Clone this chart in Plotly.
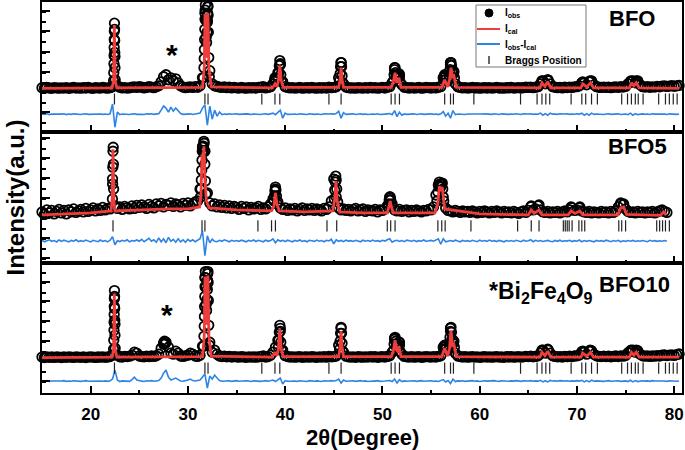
import plotly.graph_objects as go
from plotly.subplots import make_subplots

# ---------------- DATA (2theta in degrees, intensity in counts) ----------------
# Observed scan, regular grid: starts at 15 deg, step 0.25 deg
SCAN_START = 15.0
SCAN_STEP = 0.25

obs_bfo_grid = [
    520, 470, 540, 490, 460, 530, 500, 470,
    510, 480, 530, 460, 500, 540, 480, 510,
    470, 520, 490, 550, 480, 460, 530, 500,
    480, 540, 500, 470, 520, 600, 3600, 700,
    560, 500, 530, 480, 510, 560, 600, 540,
    620, 560, 500, 540, 620, 580, 520, 600,
    700, 1100, 1600, 1800, 1300, 1500, 1200, 1400,
    1000, 700, 580, 520, 560, 600, 540, 620,
    560, 700, 1500, 7900, 7200, 2200, 900, 700,
    640, 580, 540, 600, 520, 560, 500, 540,
    510, 480, 540, 500, 470, 530, 500, 520,
    480, 540, 560, 620, 500, 540, 620, 900,
    1400, 2000, 2900, 1100, 620, 540, 500, 520,
    480, 510, 540, 470, 500, 520, 490, 540,
    500, 470, 520, 490, 530, 480, 560, 520,
    540, 600, 1500, 3000, 900, 580, 520, 490,
    510, 470, 530, 500, 480, 520, 490, 540,
    500, 530, 470, 510, 540, 490, 560, 620,
    1000, 2500, 1700, 1800, 800, 560, 520, 490,
    530, 480, 510, 540, 470, 500, 540, 520,
    490, 530, 500, 560, 620, 1500, 1700, 1200,
    3000, 2200, 900, 600, 540, 500, 530, 480,
    510, 540, 490, 520, 470, 500, 530, 490,
    520, 480, 510, 540, 490, 500, 470, 530,
    500, 540, 480, 510, 530, 490, 520, 560,
    540, 580, 520, 560, 620, 900, 1200, 900,
    1300, 900, 620, 560, 520, 540, 500, 560,
    530, 580, 540, 600, 620, 700, 1000, 1000,
    800, 1100, 1200, 800, 620, 560, 540, 580,
    540, 580, 520, 560, 600, 540, 620, 580,
    640, 900, 1100, 1200, 1000, 1200, 800, 620,
    580, 620, 560, 600, 580, 640, 600, 680,
    700, 640, 680, 720, 660, 700, 740,
]
obs_bfo_pk_x = [22.36, 22.38, 22.40, 22.41, 22.42, 22.43, 22.44, 22.45, 22.46, 22.47, 22.48, 22.50, 22.52,
                31.60, 31.65, 31.68, 31.70, 31.72, 31.74, 31.76, 31.78, 31.80, 31.84, 31.88, 31.92, 31.96,
                32.00, 32.02, 32.04, 32.06, 32.08, 32.10, 32.14, 32.20,
                38.90, 38.95, 39.00, 39.30, 39.35, 39.40, 39.45, 39.50, 39.55, 39.60,
                45.60, 45.65, 45.70, 45.75, 45.80, 45.85, 45.90,
                51.15, 51.20, 51.25, 51.30, 51.35, 51.45, 51.60, 51.65, 51.70, 51.75, 51.80,
                56.30, 56.35, 56.40, 56.45, 56.50, 56.90, 56.95, 57.00, 57.05, 57.10, 57.15, 57.30, 57.35, 57.40,
                66.40, 66.45, 67.00, 67.05, 70.60, 70.65, 71.35, 71.40, 75.55, 75.60, 76.10, 76.15]
obs_bfo_pk_y = [1200, 2000, 2900, 3700, 4500, 5300, 6100, 6900, 6300, 5200, 4000, 2500, 1300,
                1500, 2500, 3400, 4300, 5300, 6300, 7300, 8200, 8700, 7200, 5500, 5000, 6000,
                7000, 7900, 8500, 8600, 7700, 6000, 3500, 1600,
                1200, 1500, 1200, 1400, 2000, 2700, 3200, 2800, 1800, 1100,
                1200, 1900, 2600, 3000, 2600, 1700, 1000,
                1200, 1800, 2300, 2500, 2000, 1500, 1500, 1800, 1900, 1600, 1100,
                1300, 1600, 1800, 1700, 1300, 1600, 2300, 2800, 3000, 2700, 2200, 1900, 2100, 1500,
                1200, 1100, 1300, 1200, 1100, 1000, 1200, 1100, 1200, 1100, 1200, 1100]
cal_bfo_x = [15, 22.2, 22.36, 22.44, 22.52, 22.7, 31.5, 31.68, 31.76, 31.86, 31.95, 32.06, 32.16, 32.4,
             38.7, 38.95, 39.15, 39.3, 39.45, 39.6, 39.8, 45.5, 45.65, 45.75, 45.85, 46.0,
             50.9, 51.1, 51.3, 51.45, 51.55, 51.7, 51.9, 56.1, 56.4, 56.7, 56.9, 57.05, 57.2, 57.35, 57.6,
             66.2, 66.4, 66.7, 67.0, 67.3, 70.4, 70.6, 71.0, 71.4, 71.7, 75.4, 75.6, 75.85, 76.1, 76.4, 80.5]
cal_bfo_y = [450, 500, 1200, 6700, 1200, 500, 550, 2500, 7800, 3500, 3800, 7900, 2500, 600,
             500, 900, 600, 1200, 2700, 1200, 550, 550, 1300, 2500, 1300, 550,
             550, 1000, 2000, 1100, 1100, 1500, 550, 550, 1300, 600, 1300, 2500, 1600, 1700, 550,
             500, 1000, 650, 1100, 500, 500, 900, 600, 1000, 500, 500, 1000, 700, 1000, 500, 450]
diff_bfo_grid = [
    -2080, -2120, -2060, -2140, -2090, -2110, -2070, -2130,
    -2100, -2060, -2140, -2090, -2120, -2070, -2110, -2080,
    -2130, -2090, -2060, -2120, -2100, -2140, -2070, -2110,
    -2090, -2120, -2080, -2130, -2060, -1100, -3400, -1900,
    -2150, -2080, -2110, -2070, -2130, -2090, -2060, -2120,
    -2080, -2110, -2140, -2070, -2100, -2060, -2120, -2090,
    -2050, -1700, -1300, -1500, -1900, -1400, -1800, -1500,
    -1800, -2050, -2120, -2080, -2110, -2070, -2130, -2090,
    -2080, -2000, -1500, -1200, -3200, -1300, -2600, -1700,
    -2300, -1900, -2150, -2080, -2120, -2070, -2110, -2090,
    -2060, -2120, -2090, -2130, -2070, -2100, -2140, -2080,
    -2110, -2070, -2130, -2090, -2060, -2120, -2050, -2000,
    -2150, -1900, -1700, -2500, -2000, -2120, -2080, -2110,
    -2090, -2130, -2070, -2110, -2080, -2140, -2060, -2100,
    -2120, -2080, -2100, -2140, -2070, -2110, -2090, -2060,
    -2100, -2050, -1800, -2500, -1950, -2120, -2080, -2110,
    -2070, -2130, -2090, -2060, -2120, -2080, -2140, -2100,
    -2090, -2110, -2060, -2130, -2080, -2100, -2070, -2040,
    -2150, -1750, -2350, -1900, -2200, -2080, -2120, -2090,
    -2110, -2070, -2130, -2090, -2060, -2120, -2080, -2100,
    -2070, -2120, -2090, -2140, -2060, -1850, -2300, -2000,
    -2500, -1750, -2150, -2080, -2110, -2070, -2130, -2090,
    -2100, -2060, -2120, -2080, -2140, -2090, -2070, -2110,
    -2080, -2120, -2060, -2100, -2130, -2070, -2110, -2090,
    -2120, -2080, -2110, -2060, -2090, -2130, -2070, -2100,
    -2090, -2060, -2120, -2080, -2110, -2000, -2200, -2050,
    -2200, -2000, -2100, -2080, -2120, -2060, -2110, -2090,
    -2070, -2120, -2080, -2110, -2060, -2100, -2000, -2200,
    -2050, -2200, -2000, -2120, -2080, -2110, -2070, -2130,
    -2090, -2060, -2120, -2080, -2110, -2070, -2130, -2100,
    -2080, -2150, -2000, -2200, -2050, -2150, -2100, -2070,
    -2110, -2080, -2130, -2060, -2100, -2120, -2070, -2090,
    -2100, -2130, -2070, -2110, -2080, -2120, -2090,
]
bragg_bfo = [22.45, 31.75, 32.07, 37.6, 38.95, 39.45, 44.5, 45.75, 50.9, 51.3, 51.75, 56.4, 57.0, 57.3,
             59.4, 64.2, 65.9, 66.4, 66.8, 67.2, 69.4, 70.5, 70.9, 71.5, 72.1, 74.6, 75.2, 75.6, 76.0,
             76.3, 76.8, 78.4, 79.1, 79.5, 79.9, 80.3]

obs_bfo5_grid = [
    700, 450, 900, 600, 850, 500, 750, 950,
    600, 850, 500, 900, 700, 1000, 650, 800,
    950, 700, 1050, 750, 900, 1100, 800, 1000,
    850, 1150, 900, 1050, 1000, 4000, 1300, 1050,
    1200, 950, 1250, 1100, 1000, 1300, 1050, 1350,
    1150, 1400, 1200, 1050, 1450, 1250, 1100, 1500,
    1300, 1550, 1200, 1450, 1350, 1600, 1250, 1500,
    1400, 1200, 1550, 1350, 1600, 1300, 1500, 1700,
    1800, 3000, 7200, 6800, 2600, 1600, 1300, 1500,
    1200, 1400, 1150, 1350, 1100, 1300, 1050, 1250,
    1150, 950, 1250, 1050, 1200, 900, 1150, 1000,
    1100, 1250, 950, 1100, 1000, 1200, 1500, 2000,
    3000, 1700, 1100, 950, 1100, 850, 1000, 900,
    1050, 800, 950, 1100, 850, 1000, 900, 1050,
    850, 1000, 900, 800, 1050, 950, 1200, 1800,
    4000, 2200, 1100, 900, 1000, 850, 950, 800,
    950, 1050, 800, 900, 1000, 750, 900, 850,
    800, 950, 700, 900, 850, 1000, 1300, 2100,
    1500, 900, 800, 950, 750, 850, 900, 700,
    850, 750, 900, 800, 700, 850, 800, 950,
    900, 1200, 2400, 3400, 3500, 2200, 1100, 850,
    800, 700, 850, 750, 650, 800, 700, 750,
    650, 800, 700, 600, 750, 650, 800, 700,
    600, 750, 650, 800, 700, 600, 750, 650,
    700, 600, 750, 650, 550, 700, 800, 650,
    850, 1200, 900, 1000, 1300, 900, 700, 650,
    750, 600, 700, 650, 750, 600, 700, 800,
    700, 900, 1100, 850, 900, 1100, 800, 700,
    650, 750, 600, 700, 650, 600, 750, 650,
    700, 600, 750, 650, 800, 1200, 1500, 1400,
    1000, 750, 650, 700, 600, 750, 650, 700,
    600, 700, 650, 750, 600, 700, 800, 900,
    750, 650,
]
obs_bfo5_pk_x = [22.24, 22.26, 22.28, 22.30, 22.32, 22.34, 22.36,
                 31.30, 31.34, 31.38, 31.42, 31.45, 31.48, 31.52, 31.56, 31.60, 31.64, 31.67, 31.70, 31.74, 31.80, 31.86,
                 38.85, 38.90, 38.95, 39.00, 39.05, 39.10, 39.20,
                 45.05, 45.10, 45.15, 45.20, 45.25, 45.30, 45.40,
                 50.65, 50.70, 50.75, 50.80, 50.85, 50.95,
                 55.60, 55.70, 55.80, 55.85, 55.90, 56.00, 56.10, 56.15, 56.20, 56.30,
                 65.30, 66.10, 69.40, 70.30, 74.50, 74.80]
obs_bfo5_pk_y = [2000, 3500, 5200, 6800, 7200, 5500, 3000,
                 2200, 3000, 3900, 4900, 5900, 6800, 7300, 6800, 7300, 7800, 7600, 6800, 5500, 3800, 2500,
                 1800, 2300, 2800, 3200, 2900, 2300, 1500,
                 2000, 2900, 3700, 4300, 3900, 3000, 1700,
                 1500, 1900, 2200, 2200, 1900, 1300,
                 1800, 2700, 3300, 3700, 3500, 3200, 3500, 3600, 3000, 1800,
                 1300, 1400, 1200, 1200, 1600, 1500]
cal_bfo5_x = [15, 20, 22.1, 22.22, 22.3, 22.38, 22.5, 25, 28, 30,
              31.2, 31.35, 31.45, 31.55, 31.65, 31.75, 31.9, 32.2, 35,
              38.6, 38.85, 39.0, 39.15, 39.4, 42, 44.9, 45.1, 45.22, 45.35, 45.6, 48,
              50.5, 50.7, 50.8, 50.9, 51.1, 55.4, 55.7, 55.85, 56.0, 56.15, 56.4, 60,
              65.0, 65.3, 65.6, 66.1, 66.4, 69.1, 69.4, 69.8, 70.3, 70.6,
              74.2, 74.5, 74.8, 75.1, 78.6, 78.9, 79.2]
cal_bfo5_y = [400, 600, 800, 2000, 7000, 2000, 800, 900, 1000, 1000,
              1200, 2500, 6500, 5500, 7300, 4000, 1800, 1100, 900,
              800, 1300, 2600, 1500, 800, 700, 800, 2000, 3800, 1800, 700, 600,
              600, 1400, 1800, 1300, 600, 600, 1500, 3300, 2800, 3200, 1000, 500,
              400, 900, 550, 900, 400, 400, 800, 550, 800, 400,
              400, 1100, 1200, 450, 350, 700, 400]
diff_bfo5_grid = [
    -2150, -2300, -2200, -2100, -2250, -2180, -2320, -2120,
    -2260, -2140, -2230, -2310, -2160, -2240, -2100, -2280,
    -2190, -2270, -2130, -2250, -2320, -2150, -2210, -2290,
    -2120, -2260, -2180, -2310, -2140, -1800, -2600, -2200,
    -2280, -2150, -2240, -2100, -2300, -2170, -2230, -2120,
    -2250, -2050, -2300, -2150, -1950, -2250, -2100, -2350,
    -1900, -2300, -2000, -2400, -1850, -2250, -2050, -2350,
    -2000, -2300, -2100, -2350, -2050, -2250, -2100, -2300,
    -2150, -2000, -1200, -3700, -1700, -2400, -2050, -2250,
    -2300, -2150, -2250, -2100, -2200, -2300, -2150, -2250,
    -2180, -2260, -2140, -2230, -2300, -2160, -2240, -2120,
    -2270, -2150, -2220, -2300, -2130, -2250, -2180, -2000,
    -2400, -2100, -2250, -2150, -2280, -2140, -2230, -2300,
    -2160, -2240, -2120, -2270, -2190, -2300, -2150, -2220,
    -2260, -2130, -2240, -2180, -2300, -2150, -2220, -2050,
    -2500, -2100, -2250, -2170, -2290, -2140, -2230, -2190,
    -2270, -2150, -2220, -2300, -2140, -2250, -2180, -2260,
    -2130, -2240, -2190, -2280, -2150, -2230, -2100, -2000,
    -2350, -2200, -2150, -2260, -2180, -2290, -2140, -2230,
    -2250, -2150, -2280, -2190, -2240, -2120, -2270, -2200,
    -2160, -2240, -2100, -2000, -2550, -2000, -2300, -2200,
    -2180, -2260, -2140, -2230, -2300, -2160, -2250, -2190,
    -2270, -2150, -2220, -2290, -2140, -2240, -2180, -2260,
    -2130, -2250, -2190, -2280, -2160, -2230, -2300, -2170,
    -2240, -2180, -2270, -2150, -2220, -2290, -2140, -2250,
    -2190, -2100, -2300, -2150, -2250, -2180, -2270, -2200,
    -2160, -2240, -2300, -2170, -2250, -2140, -2260, -2200,
    -2230, -2150, -2280, -2190, -2250, -2120, -2300, -2180,
    -2260, -2170, -2240, -2300, -2160, -2250, -2190, -2270,
    -2140, -2230, -2290, -2180, -2250, -2150, -2300, -2200,
    -2260, -2180, -2240, -2160, -2270, -2200, -2250, -2170,
    -2230, -2290, -2150, -2240, -2190, -2260, -2200, -2250,
    -2180, -2240,
]
bragg_bfo5 = [22.3, 31.45, 31.75, 37.2, 38.6, 39.0, 44.3, 45.3, 50.5, 50.85, 51.3, 55.7, 56.1, 56.45,
              59.1, 63.9, 65.3, 66.1, 68.6, 68.8, 69.0, 69.2, 69.5, 70.2, 70.5, 70.8, 74.3, 74.6, 75.0,
              78.2, 78.5, 78.8, 79.1, 79.5]

obs_bfo10_grid = [
    510, 470, 530, 490, 520, 480, 540, 500,
    470, 520, 490, 540, 500, 480, 530, 510,
    490, 530, 470, 510, 540, 500, 480, 520,
    500, 540, 490, 520, 560, 700, 3800, 700,
    540, 520, 580, 560, 600, 700, 1000, 900,
    620, 560, 540, 600, 560, 620, 580, 640,
    800, 1400, 1900, 2000, 1500, 900, 800, 1100,
    900, 620, 580, 640, 700, 900, 800, 620,
    580, 700, 1600, 8500, 8200, 2000, 1000, 1200,
    800, 620, 560, 600, 540, 580, 520, 560,
    540, 500, 560, 520, 490, 540, 510, 530,
    500, 540, 560, 640, 520, 560, 700, 1000,
    1500, 2200, 3400, 1200, 650, 560, 520, 540,
    500, 530, 560, 490, 520, 540, 500, 550,
    520, 490, 540, 510, 550, 500, 580, 540,
    560, 620, 1700, 3400, 1000, 600, 540, 510,
    530, 490, 550, 520, 500, 540, 510, 560,
    520, 550, 490, 530, 560, 510, 580, 640,
    1000, 2400, 1800, 2000, 800, 580, 540, 510,
    550, 500, 530, 560, 490, 520, 560, 540,
    510, 550, 520, 580, 640, 1500, 1700, 1200,
    3400, 2200, 900, 620, 560, 520, 550, 500,
    530, 560, 510, 540, 490, 520, 550, 510,
    540, 500, 530, 560, 510, 520, 490, 550,
    520, 560, 500, 530, 550, 510, 540, 580,
    560, 600, 540, 580, 640, 900, 1200, 900,
    1250, 900, 640, 580, 540, 560, 520, 580,
    550, 600, 560, 620, 640, 720, 1050, 1000,
    800, 1100, 1150, 800, 640, 580, 560, 600,
    560, 600, 540, 580, 620, 560, 640, 600,
    660, 950, 1100, 1200, 1000, 1150, 800, 640,
    600, 640, 580, 620, 600, 660, 620, 700,
    720, 660, 700, 740, 680, 760, 820,
]
obs_bfo10_pk_x = [22.36, 22.38, 22.40, 22.41, 22.42, 22.43, 22.44, 22.45, 22.46, 22.47, 22.48, 22.50, 22.52,
                  27.50, 27.55, 27.60, 27.65, 27.70,
                  31.60, 31.65, 31.68, 31.70, 31.72, 31.74, 31.76, 31.78, 31.80, 31.84, 31.88, 31.92, 31.96,
                  32.00, 32.02, 32.04, 32.06, 32.08, 32.10, 32.14, 32.20,
                  39.30, 39.35, 39.40, 39.45, 39.50, 39.55, 39.60,
                  45.60, 45.65, 45.70, 45.75, 45.80, 45.85, 45.90,
                  51.15, 51.20, 51.25, 51.30, 51.35, 51.45, 51.60, 51.65, 51.70, 51.75, 51.80,
                  56.30, 56.35, 56.40, 56.45, 56.50, 56.90, 56.95, 57.00, 57.05, 57.10, 57.15, 57.30, 57.35, 57.40,
                  66.40, 66.45, 67.00, 67.05, 70.60, 70.65, 71.35, 71.40, 75.55, 75.60, 76.10, 76.15]
obs_bfo10_pk_y = [1300, 2200, 3200, 4000, 4800, 5600, 6400, 7200, 6600, 5400, 4200, 2700, 1400,
                  1800, 2000, 2100, 2000, 1900,
                  1600, 2600, 3600, 4600, 5600, 6600, 7600, 8500, 9100, 7500, 5800, 5200, 6300,
                  7300, 8200, 8900, 9100, 8000, 6200, 3700, 1700,
                  1500, 2200, 3000, 3700, 3100, 2000, 1200,
                  1300, 2100, 2900, 3500, 2900, 1900, 1100,
                  1200, 1800, 2300, 2500, 2100, 1500, 1500, 1800, 2000, 1700, 1100,
                  1300, 1600, 1700, 1600, 1300, 1700, 2500, 3100, 3500, 3000, 2300, 1900, 2100, 1500,
                  1200, 1100, 1300, 1200, 1100, 1000, 1200, 1100, 1200, 1100, 1200, 1100]
cal_bfo10_x = cal_bfo_x
cal_bfo10_y = [450, 500, 1300, 6900, 1300, 500, 550, 2600, 8600, 3800, 4000, 8700, 2600, 600,
               500, 1000, 650, 1300, 3300, 1300, 550, 550, 1500, 3100, 1500, 550,
               550, 1000, 2200, 1200, 1100, 1600, 550, 550, 1400, 600, 1400, 3200, 1700, 1800, 550,
               500, 1000, 650, 1100, 500, 500, 900, 600, 1000, 500, 500, 1000, 700, 1000, 500, 500]
diff_bfo10_grid = [
    -1880, -1920, -1860, -1930, -1890, -1910, -1870, -1920,
    -1900, -1860, -1930, -1890, -1920, -1870, -1910, -1880,
    -1930, -1890, -1860, -1920, -1900, -1940, -1870, -1910,
    -1890, -1920, -1880, -1930, -1860, -1700, -800, -1800,
    -1950, -1880, -1910, -1870, -1930, -1750, -1500, -1800,
    -1880, -1910, -1940, -1870, -1900, -1860, -1920, -1890,
    -1850, -1600, -1100, -800, -1500, -1800, -1700, -1600,
    -1750, -1900, -1920, -1880, -1800, -1700, -1850, -1890,
    -1880, -1800, -1500, -1200, -2600, -1400, -1700, -1300,
    -1600, -1850, -1920, -1880, -1910, -1870, -1930, -1890,
    -1860, -1920, -1890, -1930, -1870, -1900, -1940, -1880,
    -1910, -1870, -1930, -1890, -1860, -1920, -1850, -1800,
    -1950, -1800, -1600, -2200, -1850, -1920, -1880, -1910,
    -1890, -1930, -1870, -1910, -1880, -1940, -1860, -1900,
    -1920, -1880, -1900, -1940, -1870, -1910, -1890, -1860,
    -1900, -1850, -1700, -2100, -1800, -1920, -1880, -1910,
    -1870, -1930, -1890, -1860, -1920, -1880, -1940, -1900,
    -1890, -1910, -1860, -1930, -1880, -1900, -1870, -1850,
    -1950, -1700, -2100, -1750, -1950, -1880, -1920, -1890,
    -1910, -1870, -1930, -1890, -1860, -1920, -1880, -1900,
    -1870, -1920, -1890, -1940, -1860, -1750, -2000, -1850,
    -2150, -1700, -1950, -1880, -1910, -1870, -1930, -1890,
    -1900, -1860, -1920, -1880, -1940, -1890, -1870, -1910,
    -1880, -1920, -1860, -1900, -1930, -1870, -1910, -1890,
    -1920, -1880, -1910, -1860, -1890, -1930, -1870, -1900,
    -1890, -1860, -1920, -1880, -1910, -1820, -1980, -1860,
    -1980, -1830, -1900, -1880, -1920, -1860, -1910, -1890,
    -1870, -1920, -1880, -1910, -1860, -1900, -1820, -1980,
    -1850, -1980, -1820, -1920, -1880, -1910, -1870, -1930,
    -1890, -1860, -1920, -1880, -1910, -1870, -1930, -1900,
    -1880, -1950, -1820, -1980, -1850, -1950, -1900, -1870,
    -1910, -1880, -1930, -1860, -1900, -1920, -1870, -1890,
    -1900, -1930, -1870, -1910, -1880, -1920, -1890,
]
bragg_bfo10 = bragg_bfo

# Offsets used for the tick rows of Bragg positions (counts)
bragg_level = [-600, -700, -600]
panel_ranges = [[-3900, 9000], [-4400, 8700], [-3100, 10000]]

legend_labels = ["I<sub>obs</sub>", "I<sub>cal</sub>", "I<sub>obs</sub>-I<sub>cal</sub>", "Braggs Position"]

# ---------------- FIGURE ----------------
FONT = "Liberation Sans, Arial, sans-serif"
RED = "#EE3D3A"
BLUE = "#2E83E6"
W, H = 685, 450
ML, MR, MT, MB = 42, 3, 2, 57
PW, PH = W - ML - MR, H - MT - MB


def px(xp):  # screen x pixel -> paper x (layout placement only)
    return (xp - ML) / PW


def py(yp):  # screen y pixel -> paper y (layout placement only)
    return (H - MB - yp) / PH


fig = make_subplots(rows=3, cols=1, shared_xaxes=True, vertical_spacing=0)

panels = [
    (obs_bfo_grid, obs_bfo_pk_x, obs_bfo_pk_y, cal_bfo_x, cal_bfo_y, diff_bfo_grid, bragg_bfo),
    (obs_bfo5_grid, obs_bfo5_pk_x, obs_bfo5_pk_y, cal_bfo5_x, cal_bfo5_y, diff_bfo5_grid, bragg_bfo5),
    (obs_bfo10_grid, obs_bfo10_pk_x, obs_bfo10_pk_y, cal_bfo10_x, cal_bfo10_y, diff_bfo10_grid, bragg_bfo10),
]

obs_marker = dict(symbol="circle-open", size=9.5, color="black", line=dict(width=1.8, color="black"))

for i, (og, pkx, pky, cx, cy, dg, br) in enumerate(panels):
    r = i + 1
    fig.add_trace(go.Scatter(x0=SCAN_START, dx=SCAN_STEP, y=og, mode="markers", marker=obs_marker,
                             cliponaxis=False, showlegend=False), row=r, col=1)
    fig.add_trace(go.Scatter(x=pkx, y=pky, mode="markers", marker=obs_marker,
                             cliponaxis=False, showlegend=False), row=r, col=1)
    fig.add_trace(go.Scatter(x=cx, y=cy, mode="lines", line=dict(color=RED, width=2.8),
                             showlegend=False), row=r, col=1)
    fig.add_trace(go.Scatter(x0=SCAN_START, dx=SCAN_STEP, y=dg, mode="lines",
                             line=dict(color=BLUE, width=1.6), showlegend=False), row=r, col=1)
    fig.add_trace(go.Scatter(x=br, y=[bragg_level[i]] * len(br), mode="markers",
                             marker=dict(symbol="line-ns-open", size=8, color="#222",
                                         line=dict(width=1.2, color="#222")),
                             showlegend=False), row=r, col=1)

for r in (1, 2, 3):
    fig.update_xaxes(range=[15, 80.8], showline=True, mirror=True, linecolor="black", linewidth=2,
                     ticks="inside", ticklen=7, tickwidth=2, tickcolor="black", dtick=10, tick0=0,
                     minor=dict(ticks="inside", dtick=5, ticklen=3, tickwidth=2, tickcolor="black"),
                     showgrid=False, zeroline=False, automargin=False, ticklabelstandoff=5,
                     tickfont=dict(family=FONT, size=17, color="black", weight="bold"),
                     row=r, col=1)
    fig.update_yaxes(range=panel_ranges[r - 1], showline=True, mirror=True, linecolor="black", linewidth=2,
                     ticks="inside", ticklen=8, tickwidth=2, tickcolor="black", dtick=2000, tick0=100,
                     minor=dict(ticks="inside", dtick=1000, ticklen=4, tickwidth=2, tickcolor="black"),
                     showticklabels=False, showgrid=False, zeroline=False, automargin=False,
                     row=r, col=1)

fig.update_xaxes(showticklabels=True, row=3, col=1)


def txt(text, x, y, size, xref="paper", yref="paper", xanchor="center", angle=0):
    return dict(text="<b>" + text + "</b>", x=x, y=y, xref=xref, yref=yref, xanchor=xanchor,
                yanchor="middle", showarrow=False, textangle=angle,
                font=dict(family=FONT, size=size, color="black"))


ann = [
    txt("BFO", px(632), py(19), 22),
    txt("BFO5", px(637), py(146), 22),
    txt("BFO10", px(634), py(284), 22),
    txt("*Bi<sub>2</sub>Fe<sub>4</sub>O<sub>9</sub>", px(541), py(292), 23),
    txt("*", 28.4, 3800, 30, xref="x", yref="y"),
    txt("*", 27.9, 4800, 30, xref="x3", yref="y3"),
    txt("Intensity(a.u.)", px(15), 0.5, 24, angle=-90),
    txt("2θ(Degree)", 0.5, py(437), 22),
]

# manual legend (texts + glyphs)
leg_rows = [13, 29, 45, 60]
for lab, yr in zip(legend_labels, leg_rows):
    ann.append(txt(lab, px(503), py(yr), 10, xanchor="left"))

shapes = [
    dict(type="rect", xref="paper", yref="paper", x0=px(476), x1=px(586), y0=py(67), y1=py(5),
         line=dict(color="#777", width=1), fillcolor="white", layer="above"),
    dict(type="circle", xref="paper", yref="paper", x0=px(485), x1=px(493), y0=py(17), y1=py(9),
         line=dict(color="black", width=1), fillcolor="black", layer="above"),
    dict(type="line", xref="paper", yref="paper", x0=px(477), x1=px(500), y0=py(29), y1=py(29),
         line=dict(color=RED, width=2), layer="above"),
    dict(type="line", xref="paper", yref="paper", x0=px(477), x1=px(500), y0=py(44), y1=py(44),
         line=dict(color=BLUE, width=2), layer="above"),
    dict(type="line", xref="paper", yref="paper", x0=px(489), x1=px(489), y0=py(64), y1=py(56),
         line=dict(color="black", width=1.2), layer="above"),
]

fig.update_layout(
    width=W, height=H,
    margin=dict(l=ML, r=MR, t=MT, b=MB),
    plot_bgcolor="white", paper_bgcolor="white",
    annotations=ann, shapes=shapes, showlegend=False,
)

fig.write_html("out.html", config={"displayModeBar": False},
               post_script="document.body.style.margin='0px';")
